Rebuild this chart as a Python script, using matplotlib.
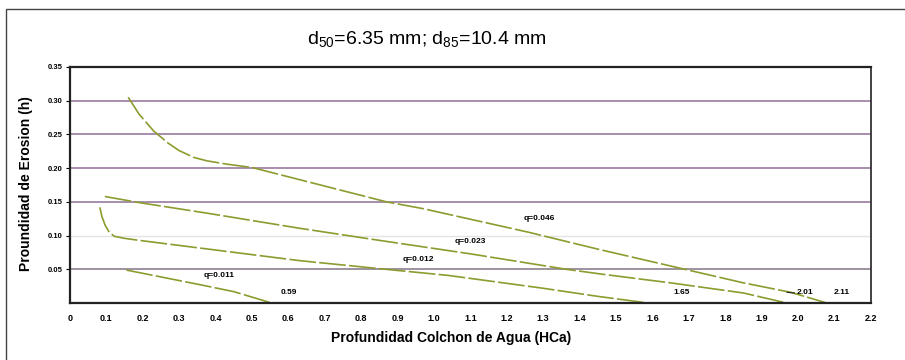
import matplotlib.pyplot as plt
from matplotlib.patches import Rectangle

plt.rcParams['font.family'] = ['Liberation Sans', 'DejaVu Sans']

# curvas q (HCa, h)
x_q046 = [0.16, 0.19, 0.23, 0.27, 0.30, 0.34, 0.375, 0.43, 0.50, 0.87, 0.97, 1.26, 1.45, 1.69, 1.85, 1.98, 2.08]
h_q046 = [0.305, 0.280, 0.255, 0.237, 0.226, 0.216, 0.211, 0.206, 0.201, 0.150, 0.140, 0.105, 0.080, 0.050, 0.030, 0.016, 0.0]

x_q023 = [0.096, 0.19, 0.38, 0.63, 0.85, 1.10, 1.365, 1.46, 1.65, 1.85, 1.97]
h_q023 = [0.158, 0.149, 0.133, 0.111, 0.093, 0.073, 0.050, 0.043, 0.030, 0.015, 0.0]

x_q012 = [0.082, 0.088, 0.097, 0.108, 0.122, 0.15, 0.19, 0.63, 0.87, 1.04, 1.30, 1.45, 1.59]
h_q012 = [0.142, 0.128, 0.115, 0.105, 0.099, 0.096, 0.093, 0.063, 0.050, 0.041, 0.022, 0.010, 0.0]

x_q011 = [0.155, 0.36, 0.45, 0.555]
h_q011 = [0.049, 0.027, 0.017, 0.0]

etiquetas = ['q=0.046', 'q=0.023', 'q=0.012', 'q=0.011']
etiq_x = [1.29, 1.10, 0.956, 0.41]
etiq_h = [0.125, 0.092, 0.065, 0.041]

finales = ['0.59', '1.65', '2.01', '2.11']
final_x = [0.60, 1.68, 2.02, 2.12]

xticks = [i / 10 for i in range(23)]
xticklabels = ['0'] + ['%.1f' % v for v in xticks[1:]]
yticks = [0.05, 0.10, 0.15, 0.20, 0.25, 0.30, 0.35]

fig = plt.figure(figsize=(9.05, 3.6), dpi=100)
# marco exterior
fig.patches.append(Rectangle((0.007, -0.1), 1.2, 0.1 + 0.975, transform=fig.transFigure,
                             fill=False, edgecolor='#444444', lw=1.0))
ax = fig.add_axes([0.0773, 0.158, 0.885, 0.656])

# lineas horizontales
for y in [0.15, 0.20, 0.25, 0.30]:
    ax.axhline(y, color='#9a7a9e', lw=1.2)
ax.axhline(0.10, color='#e4e4e4', lw=1.0)
ax.axhline(0.05, color='#8d7f90', lw=1.2)

verde = '#8d9b2f'
for xs, hs in [(x_q046, h_q046), (x_q023, h_q023), (x_q012, h_q012), (x_q011, h_q011)]:
    ax.plot(xs, hs, color=verde, lw=1.2, dashes=(16, 2))

for t, xx, hh in zip(etiquetas, etiq_x, etiq_h):
    ax.text(xx, hh, t, fontsize=6, fontweight='bold', ha='center', va='center')
for t, xx in zip(finales, final_x):
    ax.text(xx, 0.015, t, fontsize=6, fontweight='bold', ha='center', va='center')
ax.plot([1.97, 1.99], [0.016, 0.015], color='#222222', lw=0.8)

ax.set_xlim(0, 2.2)
ax.set_ylim(0, 0.35)
ax.set_xticks(xticks)
ax.set_xticklabels(xticklabels, fontsize=6.5, fontweight='bold')
ax.set_yticks(yticks)
ax.set_yticklabels(['%.2f' % v for v in yticks], fontsize=5.5, fontweight='bold')
ax.tick_params(axis='x', length=0, pad=8)
ax.tick_params(axis='y', length=3, direction='out', pad=2)

for s in ['left', 'bottom', 'top']:
    ax.spines[s].set_linewidth(1.6)
    ax.spines[s].set_color('#222222')
ax.spines['right'].set_linewidth(1.3)
ax.spines['right'].set_color('#333333')

fig.text(0.472, 0.89, r'd$_\mathregular{50}$=6.35 mm; d$_\mathregular{85}$=10.4 mm',
         fontsize=14, ha='center', va='center')
fig.text(0.498, 0.062, 'Profundidad Colchon de Agua (HCa)', fontsize=10,
         fontweight='bold', ha='center', va='center')
fig.text(0.029, 0.49, 'Proundidad de Erosion (h)', fontsize=10, fontweight='bold',
         ha='center', va='center', rotation=90)

fig.savefig('out.png', dpi=100)
